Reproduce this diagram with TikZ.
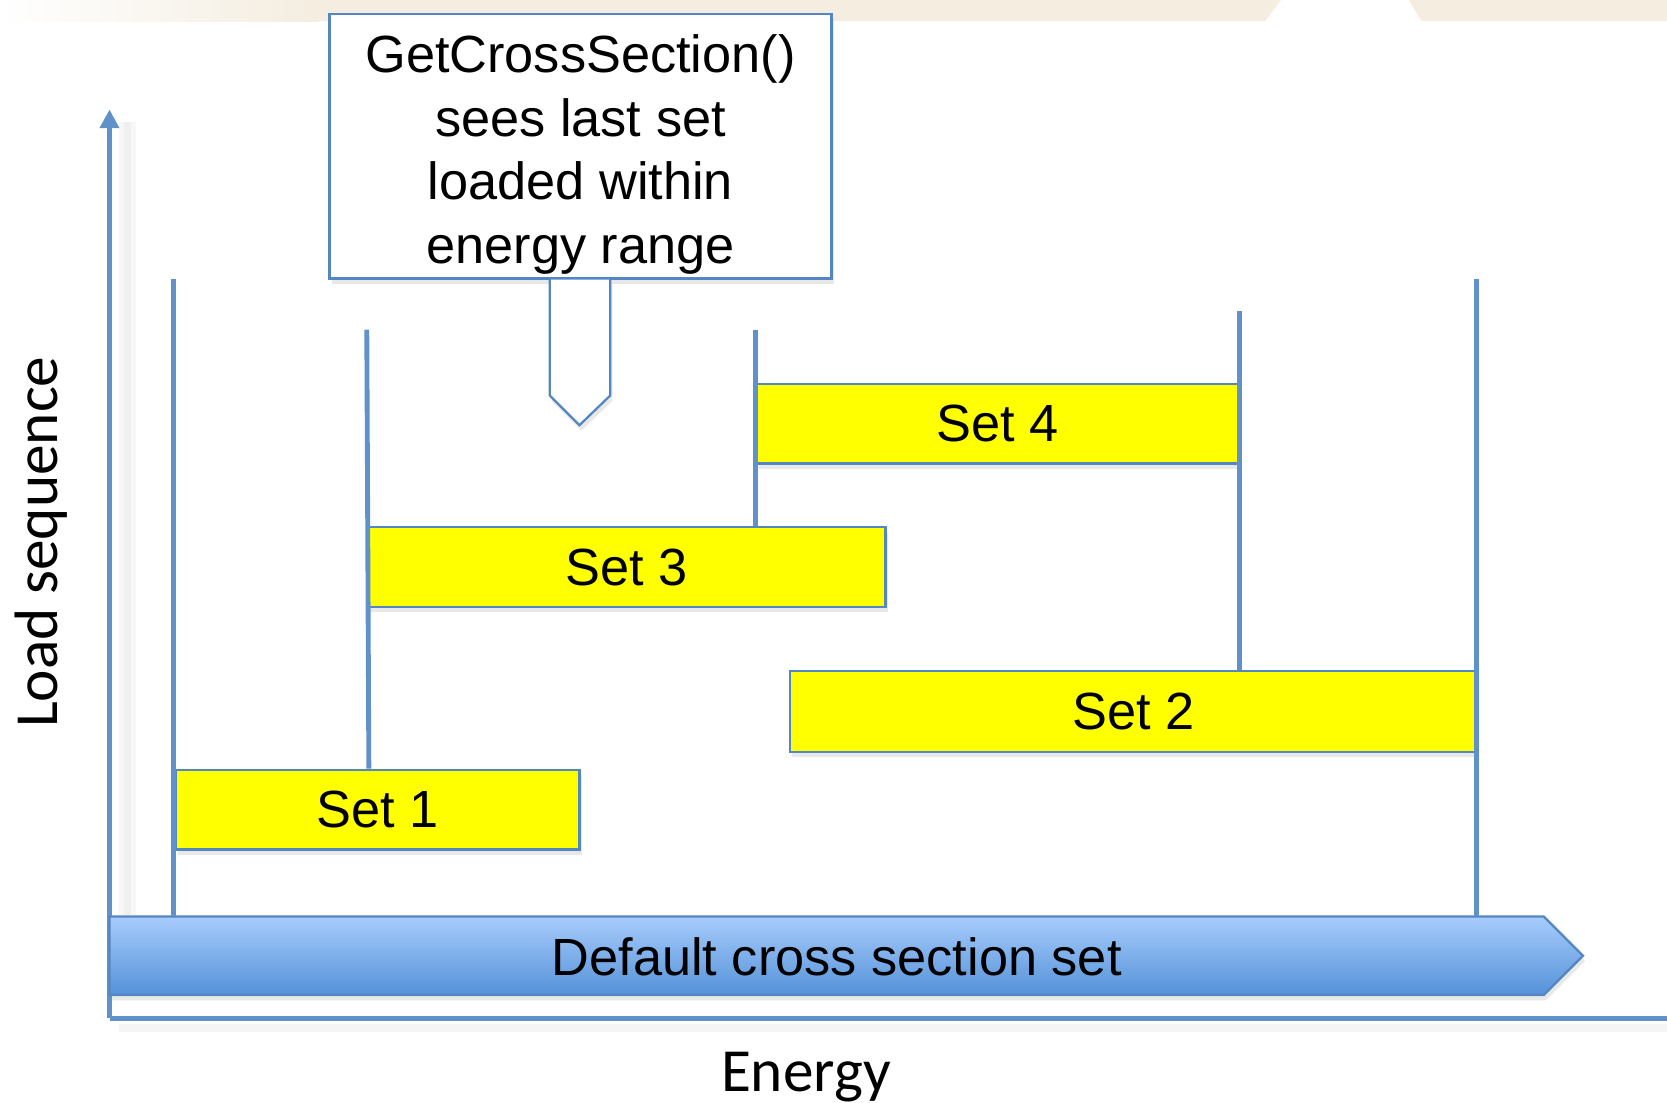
\documentclass[tikz,border=0pt]{standalone}
\usepackage{fontspec}
\setmainfont{Liberation Sans}
\newfontfamily\calibri{Carlito}
\usepackage{tikz}
\usetikzlibrary{arrows.meta,shadows}

\definecolor{axisblue}{RGB}{96,146,201}
\definecolor{edgeblue}{RGB}{84,134,194}
\definecolor{bartop}{RGB}{168,204,252}
\definecolor{barbot}{RGB}{84,146,216}
\definecolor{beige}{RGB}{244,237,224}
\definecolor{setyellow}{RGB}{255,255,0}

\tikzset{
  softshadow/.style={drop shadow={opacity=0.18,shadow xshift=0.02,shadow yshift=-0.05}},
  setbox/.style={draw=edgeblue,line width=0.6pt,fill=setyellow,inner sep=0pt,
    minimum height=0.75cm,font=\fontsize{14}{17}\selectfont,softshadow},
  vline/.style={axisblue,line width=1.3pt},
}

\begin{document}
\begin{tikzpicture}
\useasboundingbox (0,0) rectangle (15.68,10.37);
% band of the slide at the top
\shade[left color=white,right color=beige] (0,10.17) rectangle (3,10.37);
\fill[beige] (3,10.17) rectangle (15.68,10.37);
\fill[white] (11.90,10.17)--(12.05,10.37)--(13.25,10.37)--(13.37,10.17)--cycle;

% axes
\draw[black!3,line width=0.16cm] (1.20,1.76)--(1.20,9.22);
\draw[black!6,line width=0.07cm] (1.20,1.76)--(1.20,9.22);
\draw[black!4,line width=0.08cm] (1.12,0.70)--(15.68,0.70);
\coordinate (origin) at (1.03,0.79);
\coordinate (ytop) at (1.03,9.34);
\coordinate (xend) at (15.68,0.79);
\draw[axisblue,line width=1.3pt,-{Triangle[width=5pt,length=5pt]}] (origin)--(ytop);
\draw[axisblue,line width=1.4pt] (origin)--(xend);
\node[rotate=90,font=\calibri\fontsize{16.4}{19}\selectfont] (ylabel) at (0.39,5.27) {Load sequence};
\node[anchor=base,font=\calibri\fontsize{16.4}{19}\selectfont] (xlabel) at (7.58,0.10) {Energy};

% default set
\shade[top color=bartop,bottom color=barbot,draw=edgeblue,line width=0.6pt,softshadow]
  (1.03,1.01)--(14.52,1.01)--(14.89,1.38)--(14.52,1.75)--(1.03,1.75)--cycle;
\coordinate (bartop) at (1.03,1.75);
\node[font=\fontsize{14}{17}\selectfont] (dflt) at (7.87,1.37) {Default cross section set};

% sets in load order
\node[setbox,minimum width=3.80cm] (set1) at (3.55,2.755) {Set 1};
\node[setbox,minimum width=4.87cm] (set3) at (5.895,5.035) {Set 3};
\node[setbox,minimum width=4.53cm] (set4) at (9.385,6.385) {Set 4};
\node[setbox,minimum width=6.46cm,minimum height=0.76cm] (set2) at (10.66,3.68) {Set 2};

% energy limits
\coordinate (e1) at (1.63,7.75);
\coordinate (e2) at (3.45,7.27);
\coordinate (e3) at (7.11,7.27);
\coordinate (e4) at (11.66,7.44);
\coordinate (e5) at (13.89,7.75);
\draw[vline] (e1)--(e1 |- bartop);
\draw[vline] (e2)--([xshift=1.83cm]set1.north west);
\draw[vline] (e3)--(e3 |- set3.north);
\draw[vline] (e4)--(e4 |- set2.north);
\draw[vline] (e5)--(e5 |- bartop);

% callout
\node[draw=edgeblue,line width=0.6pt,fill=white,minimum width=4.72cm,minimum height=2.49cm,softshadow] (note) at (5.46,8.995) {};
\draw[edgeblue,line width=0.6pt,fill=white,softshadow]
  (5.17,7.75)--(5.17,6.65)--(5.45,6.37)--(5.74,6.65)--(5.74,7.75)--cycle;
\node[align=center,font=\fontsize{14}{17}\selectfont] (notetext) at ([yshift=-0.08cm]note.center)
  {GetCrossSection()\\sees last set\\loaded within\\energy range};
\end{tikzpicture}
\end{document}
